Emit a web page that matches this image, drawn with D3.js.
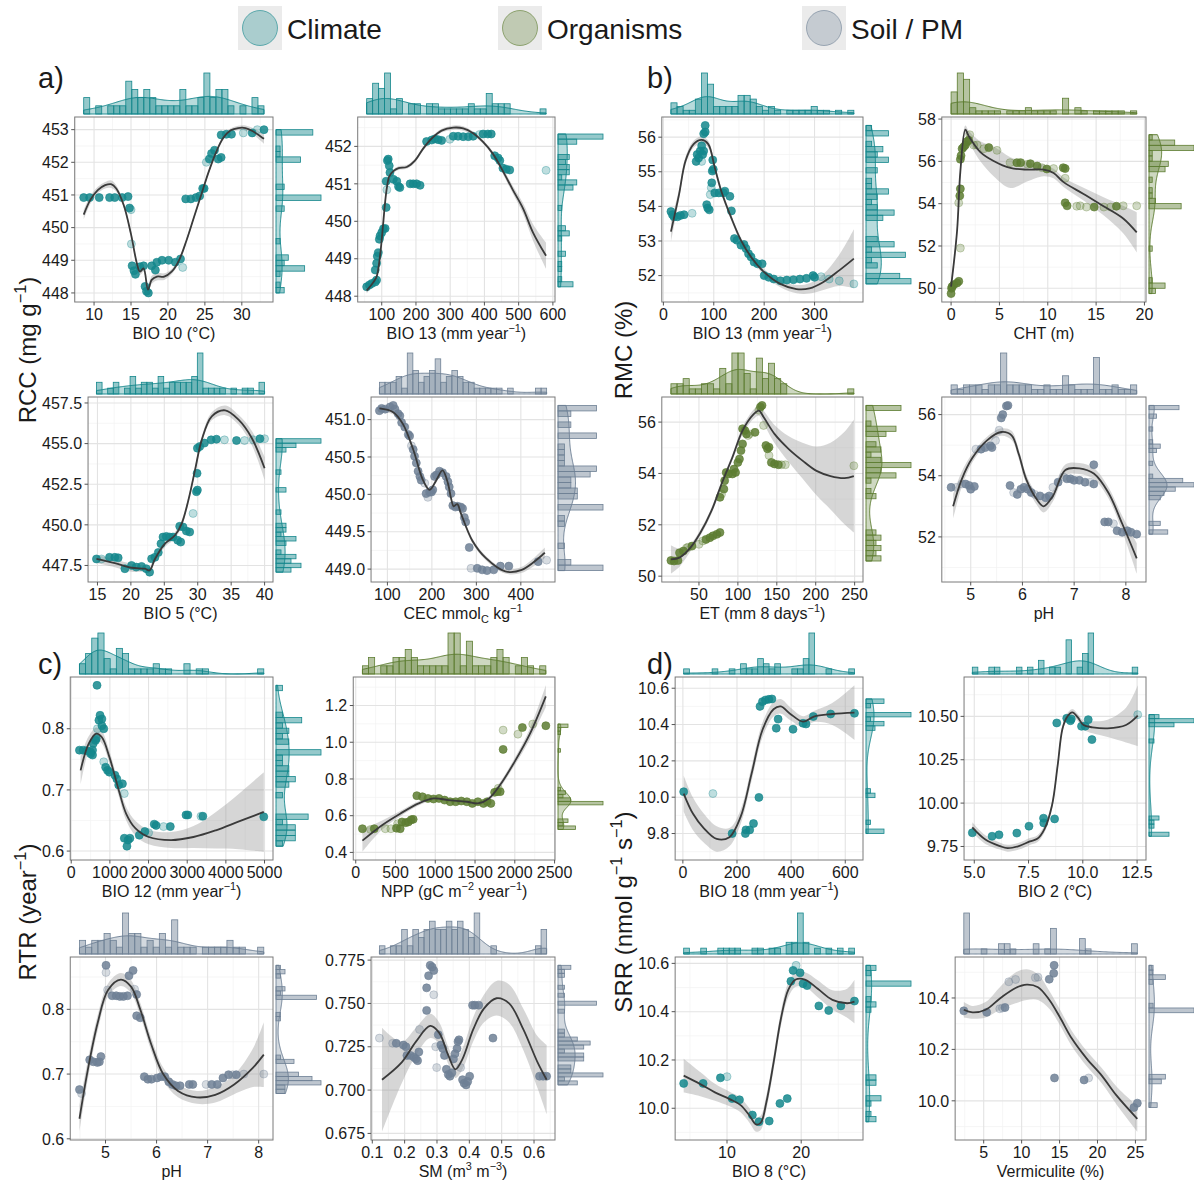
<!DOCTYPE html>
<html>
<head>
<meta charset="utf-8">
<script src="https://cdn.jsdelivr.net/npm/d3@7"></script>
<style>
body { margin: 0; background: #fff; }
svg { display: block; }
text { font-family: "Liberation Sans", Arial, sans-serif; fill: #1a1a1a; }
</style>
</head>
<body>
<svg id="chart" width="1194" height="1182"></svg>
<script>
var climate = '#14878c', organisms = '#5d7d31', soil = '#6e8095'

// points are [x, y, light, weight]; curves are [x, y, halfwidth] or [x, y, lo, hi]
var a1Points = [[8.6,450.92],[9.4,450.92],[10.7,450.92],[12.1,450.92],[12.8,450.92],[13.8,450.92],[14.6,450.95],[14.8,450.6],[15.0,450.55,1],[15.05,449.5,1],[15.15,448.83],[15.4,448.68],[15.6,448.57],[16.2,448.8],[16.7,448.83],[16.9,448.2],[17.1,448.05],[17.35,448.0],[17.8,448.83],[18.3,448.7],[18.5,448.94],[19.2,449.0],[20.1,449.0],[21.0,448.94],[21.7,449.04],[22.0,448.78,1],[22.4,450.88],[23.1,450.88],[23.8,450.92],[24.3,450.97],[24.7,451.2],[24.9,451.2],[25.2,452.0,1],[25.6,452.1,0,3],[25.9,452.27],[26.3,452.37],[26.8,452.1],[27.2,452.15],[27.2,452.84],[27.9,452.86,0,3],[28.6,452.86],[30.2,452.9,1],[31.4,452.9],[32.1,453.0,1],[33.0,453.0]]
var a1Curve = [[8.6,450.4,.15],[9.5,450.85,.12],[10.5,451.15,.1],[11.5,451.3,.1],[12.3,451.33,.12],[13,451.2,.1],[14,450.7,.08],[15,449.8,.08],[15.8,448.9,.08],[16.2,448.65,.1],[16.7,448.75,.1],[17.3,448.1,.12],[17.8,448.4,.12],[18.5,448.5,.12],[19.5,448.5,.1],[20.5,448.65,.08],[21.5,449.0,.07],[22.5,449.6,.06],[23.5,450.3,.06],[24.5,451.0,.06],[25.5,451.7,.06],[26.5,452.3,.06],[27.5,452.75,.06],[28.5,452.98,.06],[29.5,453.05,.07],[30.5,453.05,.08],[31.5,452.95,.1],[32.5,452.8,.13],[33,452.72,.15]]

var a2Points = [[56,448.25],[64,448.3],[71,448.34],[81,448.38],[85,448.43],[81,448.7],[85,448.88],[87,449.07],[90,449.16],[93,449.52],[95,449.61],[100,449.7,0,2],[105,449.8],[110,449.81],[113,450.37],[115,450.84,1],[113,451.07],[116.5,451.62],[119,451.66],[122,451.48],[124,451.3],[134,451.12],[144,451.07],[149,450.93],[153,450.9],[183,451.0],[192,451.0],[202,451.0],[212,450.96],[231,452.13],[246,452.17],[255,452.2],[265,452.18],[275,452.16],[299,452.19,1],[309,452.27],[323,452.27],[338,452.26],[353,452.26],[367,452.27],[386,452.32,1],[396,452.33],[410,452.33],[420,452.33,0,3],[430,451.75],[440,451.69],[445,451.62],[454,451.42],[464,451.39],[474,451.37],[580,451.36,1]]
var a2Curve = [[56,448.15,.08],[76,448.38,.06],[85,448.52,.06],[95,449.07,.06],[100,449.52,.06],[105,450.02,.06],[110,450.52,.06],[115,450.89,.06],[122,451.2,.06],[134,451.34,.05],[149,451.42,.05],[173,451.45,.05],[197,451.62,.05],[221,451.94,.05],[246,452.21,.05],[275,452.42,.05],[309,452.5,.06],[338,452.48,.06],[367,452.35,.05],[396,452.12,.05],[425,451.8,.06],[454,451.34,.08],[483,450.84,.1],[513,450.34,.14],[542,449.7,.22],[580,449.08,.35]]

var b1Points = [[15,53.85],[18,53.76],[21,53.7],[28,53.7],[34,53.74],[41,53.76],[57,53.8,1],[65,55.3],[67,55.5],[70,55.4],[73,55.6],[76,55.3,1],[80,55.6,0,2],[76,55.75],[78,55.5],[80,56.1],[83,56.15,0,3],[83,56.34],[86,54.05],[88,53.95],[91,53.9],[93,54.34,1],[95,54.54,1],[96,54.68],[97,55.02],[99,55.07],[98,55.34],[102,54.39],[110,54.39],[119,54.39],[122,54.44],[132,54.29],[135,53.87],[141,53.07],[146,53.02],[154,52.88,0,4],[160,52.9],[164,52.78],[169,52.63,0,4],[174,52.54,0,3],[180,52.39],[187,52.34],[196,52.34],[200,52.0],[209,51.95],[219,51.9],[232,51.85],[245,51.87],[258,51.88],[271,51.9],[284,51.92],[297,52.0],[300,51.95],[313,51.97,1],[329,51.9,1],[349,51.85,1],[378,51.76,1]]
var b1Curve = [[15,53.27,.3],[31,54.34,.15],[44,55.32,.12],[60,55.8,.1],[76,55.92,.1],[89,55.8,.1],[102,55.12,.1],[115,54.44,.1],[135,53.66,.08],[154,53.02,.08],[174,52.54,.08],[200,52.1,.08],[232,51.76,.1],[264,51.61,.12],[290,51.63,.15],[316,51.8,.22],[349,52.15,.45],[378,52.49,.85]]

var b2Points = [[0,49.75],[0.05,50.0],[0.1,50.08,0,3],[0.28,50.17],[0.62,50.25],[0.8,50.33],[0.79,54.04,1],[0.9,54.37],[0.96,54.7],[0.96,51.9,1],[0.96,56.1],[1.03,56.27],[1.14,56.6,0,6],[1.3,56.68,0,5],[1.48,56.77,0,4],[1.65,56.93],[1.82,57.0],[1.93,57.26,1],[2.34,56.77,1],[2.7,56.77,1],[3.4,56.6,1],[3.9,56.65],[4.75,56.52,1],[6.1,55.94,1],[6.8,55.94],[7.2,55.94],[7.9,55.86,1],[8.2,55.89],[8.9,55.78],[9.4,55.7,1],[9.9,55.64],[10.6,55.66,1],[11.6,55.7],[11.8,55.66],[11.8,55.2,1],[11.8,54.04],[12.0,53.9],[13.0,53.88,1],[13.35,53.9,1],[14.0,53.84,1],[14.8,53.84],[15.8,53.84,1],[16.5,53.84,1],[17.1,53.88],[17.8,53.9,1],[19.2,53.9,1]]
var b2Curve = [[0,50.08,49.9,50.3],[0.62,52.72,52.5,52.95],[0.96,55.53,55.35,55.7],[1.48,57.5,57.3,57.7],[1.82,57.2,56.95,57.45],[3.03,56.44,56.0,56.95],[4.4,56.02,55.3,56.7],[6.13,55.69,54.74,56.2],[7.85,55.61,55.05,55.95],[9.57,55.61,55.3,55.85],[10.6,55.45,55.2,55.65],[11.6,55.03,54.8,55.25],[13.7,54.46,54.15,54.75],[15.77,53.88,53.45,54.3],[17.8,53.3,52.6,53.9],[19.2,52.64,51.7,53.6]]

var a3Points = [[14.85,447.9],[15.6,447.9,1],[16.8,448.0],[17.6,448.0],[18.1,447.97],[19.1,447.3],[20.1,447.5,0,3],[20.8,447.4],[21.6,447.44],[22.3,447.3],[22.8,447.09],[23.1,447.91],[23.6,448.0],[24.1,448.3],[24.5,448.84],[24.8,449.25],[25.3,449.29],[25.8,449.25],[26.3,449.25],[27.0,449.05],[27.45,448.94],[27.3,449.91],[27.8,449.87],[28.3,449.62],[28.8,449.56],[29.3,450.7,1],[29.8,452.04],[29.9,453.17],[29.95,452.14],[29.95,454.72,0,2],[30.3,454.82,0,4],[31.0,455.03],[32.0,455.23],[32.8,455.27],[34.0,455.23,1],[35.8,455.19],[37.0,455.19,1],[38.3,455.23,1],[39.3,455.3],[40.0,455.3,1]]
var a3Curve = [[14.85,447.9,.25],[17.6,447.64,.25],[20.1,447.36,.25],[22.1,447.3,.2],[22.8,447.2,.2],[23.6,447.9,.2],[25.1,448.84,.2],[26.6,449.36,.2],[27.6,450.08,.2],[28.6,451.52,.2],[29.6,453.38,.2],[30.6,455.23,.2],[32.1,456.68,.25],[34.1,457.05,.3],[36.1,456.47,.3],[38.1,455.33,.45],[40.0,453.48,.7]]

var a4Points = [[82,451.12],[87,451.15],[95,451.14],[106,451.17],[113,451.19],[117,451.14],[124,451.08],[128,451.05],[132,450.96],[139,450.9],[147,450.8],[150,450.78,0,5],[154,450.65,1],[158,450.6],[161,450.51],[165,450.42],[169,450.31],[173,450.24],[176,450.19],[184,450.15,1],[187,450.01],[191,449.96,1],[195,450.03],[199,450.03],[202,450.06],[206,450.24],[210,450.26],[217,450.31,0,5],[224,450.29],[232,450.24],[236,450.17],[239,450.1],[243,450.01],[247,449.85],[253,449.83,0,3],[258,449.84],[265,449.83],[269,449.81],[273,449.69],[276,449.63],[284,449.29],[288,449.01,1],[302,449.01],[313,448.99],[324,448.98],[339,448.99],[354,449.04],[373,449.04],[439,449.1],[458,449.12,1]]
var a4Curve = [[82,451.15,.04],[113,451.1,.03],[135,450.94,.03],[158,450.6,.03],[180,450.19,.03],[195,450.06,.03],[210,450.19,.03],[224,450.32,.03],[236,450.15,.03],[243,449.95,.03],[249,449.84,.03],[257,449.87,.03],[265,449.75,.03],[291,449.38,.03],[321,449.15,.03],[365,448.97,.03],[402,448.99,.04],[454,449.22,.07]]

var b3Points = [[14,50.61],[18,50.59],[23,50.61],[25,50.91],[30,50.98],[34,51.1,1],[36,51.13,1],[41,51.17],[50,51.24,1],[55,51.37,1],[59,51.43],[64,51.5],[68,51.57],[73,51.63],[77,51.7],[77,53.07],[79,53.2,1],[82,53.39],[83,53.72],[85,54.04],[88,53.98],[93,53.98,0,5],[95,54.17],[97,54.04],[100,54.43],[102,54.56],[104,54.89],[106,55.15],[106,55.74,0,5],[109,55.67],[111,55.54],[113,55.48,1],[115,55.54,1],[122,55.6],[127,56.46,1],[129,56.59],[131,56.65,0,5],[133,55.87,1],[136,55.09],[138,54.96],[140,55.02],[140,54.7,1],[143,54.43],[147,54.37,0,3],[152,54.34,0,3],[156,54.34,1],[161,54.34,1],[249,54.3,1]]
var b3Curve = [[14,50.65,.55],[25,50.72,.35],[39,51.11,.15],[52,51.7,.12],[66,52.54,.12],[79,53.59,.12],[93,54.63,.12],[106,55.67,.15],[120,56.3,.18],[127,56.45,.2],[133,56.2,.25],[147,55.54,.35],[165,54.96,.5],[183,54.5,.7],[201,54.1,.95],[219,53.9,1.3],[237,53.82,1.8],[249,53.9,2.2]]

var b4Points = [[4.62,53.62],[4.72,53.62,1],[4.83,53.73,1],[4.9,53.73],[4.97,53.68],[5.0,53.56],[5.07,53.65],[5.1,54.87,1],[5.2,54.87],[5.28,54.92],[5.38,54.98],[5.41,54.92],[5.48,55.15,1],[5.55,55.49,1],[5.59,55.89],[5.62,56.0],[5.69,56.28,0,7],[5.72,56.3],[5.76,53.68],[5.83,53.45,1],[5.9,53.39],[5.97,53.56],[6.03,53.62],[6.1,53.56],[6.17,53.45],[6.24,53.39,1],[6.34,53.34],[6.45,53.28],[6.52,53.34],[6.59,53.62,1],[6.69,53.79],[6.79,53.96,1],[6.86,53.9,0,3],[6.93,53.9],[7.0,53.85],[7.1,53.85],[7.21,53.79],[7.31,53.79,1],[7.38,53.73,0,7],[7.38,54.36],[7.59,52.49],[7.66,52.49],[7.76,52.43,1],[7.83,52.2],[7.93,52.15],[8.03,52.2],[8.1,52.15],[8.21,52.09]]
var b4Curve = [[4.66,53.0,.4],[4.83,53.9,.25],[5.03,54.58,.15],[5.31,55.15,.12],[5.59,55.43,.12],[5.79,55.32,.15],[5.93,54.7,.15],[6.07,53.9,.15],[6.28,53.22,.18],[6.41,53.0,.2],[6.59,53.34,.18],[6.83,54.19,.18],[7.1,54.24,.18],[7.38,54.07,.18],[7.66,53.45,.18],[7.93,52.43,.25],[8.21,51.3,.5]]

var c1Points = [[213,0.765],[309,0.765],[406,0.764],[503,0.762,0,2],[551,0.765],[503,0.759],[551,0.757],[570,0.776],[629,0.781],[648,0.784],[667,0.871],[677,0.8,1],[716,0.814,0,3],[745,0.822],[793,0.816],[841,0.8],[793,0.805],[841,0.746,1],[890,0.737],[938,0.732],[986,0.729],[1131,0.724],[1180,0.718,0,3],[1228,0.708],[1325,0.71],[1373,0.694,1],[1373,0.621],[1470,0.618],[1518,0.621],[1441,0.608],[1760,0.626],[1905,0.632],[2002,0.63,1],[2147,0.644],[2195,0.642],[2389,0.64,1],[2563,0.64],[2969,0.659],[3017,0.659],[3356,0.657,1],[3404,0.657],[4981,0.656]]
var c1Curve = [[242,0.732,.023],[455,0.776,.012],[648,0.792,.01],[793,0.786,.01],[986,0.754,.01],[1228,0.7,.01],[1422,0.661,.011],[1663,0.637,.012],[2002,0.623,.012],[2582,0.618,.013],[3162,0.623,.018],[3743,0.634,.03],[4323,0.648,.045],[4981,0.664,.065]]

var c2Points = [[84,0.529],[186,0.525,1],[233,0.529],[372,0.529,1],[442,0.529,1],[512,0.532],[526,0.556,1],[559,0.529],[582,0.566],[628,0.562],[661,0.566],[698,0.578],[722,0.58],[768,0.709],[838,0.703],[908,0.694],[978,0.691],[1047,0.694],[1117,0.685],[1187,0.676,0,5],[1257,0.676,0,5],[1327,0.68],[1397,0.676,0,3],[1466,0.667],[1536,0.676],[1606,0.667],[1653,0.676],[1699,0.667],[1746,0.727],[1778,0.731],[1792,0.749,1],[1816,0.731],[1853,0.961],[1853,1.066,1],[2039,1.044,1],[2095,1.08,0,2],[2225,1.099,1],[2390,1.09]]
var c2Curve = [[84,0.464,.06],[326,0.547,.025],[559,0.611,.015],[791,0.667,.012],[978,0.694,.01],[1164,0.685,.01],[1397,0.676,.01],[1536,0.667,.01],[1676,0.694,.012],[1816,0.768,.015],[2002,0.897,.02],[2188,1.044,.03],[2390,1.25,.06]]

var c3Points = [[4.49,0.676],[4.53,0.67,1],[4.69,0.722],[4.76,0.719],[4.84,0.718],[4.88,0.719],[4.91,0.727],[5.01,0.868],[5.01,0.857,1],[5.04,0.83,1],[5.13,0.821],[5.21,0.821],[5.28,0.82],[5.35,0.82],[5.43,0.821,0,5],[5.46,0.852],[5.54,0.86],[5.57,0.831,1],[5.61,0.823],[5.61,0.79],[5.68,0.787],[5.76,0.696],[5.83,0.692],[5.9,0.692],[6.01,0.694],[6.09,0.696,0,2],[6.16,0.696],[6.24,0.688],[6.31,0.684,0,4],[6.38,0.682],[6.46,0.682],[6.64,0.684],[6.71,0.684],[6.97,0.684,1],[7.08,0.684],[7.19,0.684],[7.3,0.694],[7.41,0.699],[7.49,0.699,1],[7.56,0.699],[7.71,0.7,1],[8.1,0.7,1]]
var c3Curve = [[4.49,0.631,.02],[4.65,0.705,.015],[4.85,0.78,.012],[5.05,0.83,.01],[5.3,0.846,.01],[5.5,0.835,.01],[5.68,0.8,.01],[5.9,0.745,.01],[6.13,0.7,.01],[6.42,0.674,.01],[6.79,0.664,.01],[7.15,0.668,.012],[7.52,0.684,.015],[7.89,0.71,.03],[8.1,0.73,.05]]

var c4Points = [[0.122,0.73,1],[0.163,0.727,1],[0.174,0.727],[0.196,0.726],[0.204,0.725],[0.207,0.72],[0.218,0.72],[0.229,0.719],[0.235,0.718],[0.24,0.717],[0.244,0.722],[0.246,0.735,1],[0.268,0.746],[0.268,0.759],[0.274,0.766],[0.279,0.772],[0.285,0.771],[0.29,0.769],[0.29,0.755,1],[0.296,0.725,1],[0.299,0.713,1],[0.304,0.732],[0.312,0.726],[0.318,0.724],[0.323,0.72],[0.329,0.712],[0.335,0.709],[0.34,0.708],[0.346,0.71],[0.351,0.718],[0.356,0.721],[0.362,0.724],[0.365,0.728],[0.368,0.729],[0.373,0.713,1],[0.379,0.706],[0.384,0.704],[0.39,0.703],[0.395,0.705],[0.401,0.708],[0.41,0.749],[0.417,0.749,0,4],[0.429,0.749],[0.473,0.73],[0.617,0.708],[0.628,0.708],[0.639,0.708,0,2]]
var c4Curve = [[0.13,0.706,.03],[0.191,0.716,.012],[0.235,0.728,.008],[0.279,0.737,.007],[0.307,0.733,.006],[0.335,0.72,.005],[0.357,0.712,.005],[0.379,0.718,.006],[0.412,0.735,.007],[0.445,0.747,.008],[0.484,0.753,.01],[0.523,0.75,.011],[0.567,0.735,.012],[0.611,0.716,.015],[0.639,0.706,.02]]

var d1Points = [[3,10.03],[111,10.02,1],[182,9.8],[231,9.8],[233,9.82],[247,9.82],[261,9.855],[281,9.999],[285,10.5],[294,10.526],[305,10.535],[318,10.539],[329,10.541],[345,10.38],[352,10.43],[407,10.374],[444,10.407],[455,10.403,0,3],[482,10.444,0,8],[546,10.458],[634,10.462]]
var d1Curve = [[3,10.02,.1],[37,9.91,.09],[77,9.83,.08],[125,9.77,.07],[172,9.78,.05],[213,9.89,.04],[254,10.13,.04],[294,10.37,.04],[335,10.484,.04],[362,10.5,.04],[396,10.46,.035],[444,10.416,.03],[484,10.444,.03],[552,10.458,.06],[634,10.466,.15]]

var d2Points = [[4.91,9.829],[5.82,9.809],[6.14,9.817],[6.96,9.827],[7.52,9.867],[8.19,9.913],[8.2,9.886],[8.7,9.909],[8.8,10.462],[9.26,10.489],[9.43,10.475,0,3],[9.47,10.485],[9.94,10.443],[10.11,10.443,0,3],[10.25,10.481,0,5],[10.42,10.366],[12.53,10.51,1]]
var d2Curve = [[4.91,9.86,.03],[5.51,9.79,.025],[6.19,9.752,.02],[6.53,9.74,.02],[7.05,9.752,.02],[7.56,9.779,.02],[7.9,9.794,.02],[8.24,9.852,.02],[8.58,9.986,.02],[8.84,10.216,.02],[9.06,10.427,.02],[9.26,10.494,.02],[9.52,10.523,.02],[9.77,10.494,.02],[10.03,10.45,.025],[10.45,10.437,.035],[11.14,10.431,.05],[11.99,10.45,.1],[12.53,10.504,.175]]

var d3Points = [[4.16,10.103],[6.78,10.103],[9.11,10.126],[10.0,10.131,1],[10.69,10.04],[11.68,10.035],[13.42,9.972],[14.31,9.944],[15.69,9.947],[17.13,10.02],[18.12,10.04],[18.61,10.526],[18.91,10.571],[19.31,10.592,1],[19.85,10.561],[20.25,10.516,0,6],[20.79,10.508,0,2],[22.38,10.424],[23.71,10.405],[25.35,10.424],[27.18,10.444]]
var d3Curve = [[4.16,10.135,.07],[6.39,10.1,.05],[8.37,10.066,.035],[10.35,10.038,.03],[11.83,10.013,.03],[13.07,9.968,.03],[13.91,9.933,.03],[14.55,9.94,.03],[15.3,10.024,.03],[16.29,10.191,.03],[17.28,10.373,.03],[18.27,10.491,.03],[19.26,10.533,.03],[20.5,10.533,.03],[22.23,10.495,.035],[24.21,10.449,.04],[26.19,10.435,.06],[27.18,10.442,.09]]

var d4Points = [[2.38,10.35,0,8],[5.4,10.344],[7.12,10.358,1],[7.47,10.361,1],[7.81,10.363],[8.31,10.463,1],[9.2,10.472,1],[11.81,10.479,1],[12.16,10.481,1],[13.64,10.473],[14.23,10.496],[14.28,10.527],[14.33,10.089,0,3],[18.23,10.081,0,3],[18.83,10.089,1],[24.8,9.974],[25.25,9.991]]
var d4Curve = [[2.38,10.354,.03],[3.52,10.344,.025],[5.25,10.354,.03],[7.22,10.4,.045],[9.2,10.439,.06],[10.68,10.452,.06],[12.16,10.442,.05],[13.64,10.393,.035],[15.12,10.321,.03],[16.6,10.243,.03],[18.58,10.164,.03],[20.56,10.098,.03],[22.53,10.02,.035],[25.25,9.93,.05]]

// axis titles
var supM1 = ['\u22121', 'sup']
var titleA1 = [['BIO 10 (\u00b0C)']]
var titleA2 = [['BIO 13 (mm year'], supM1, [')']]
var titleB2 = [['CHT (m)']]
var titleA3 = [['BIO 5 (\u00b0C)']]
var titleA4 = [['CEC mmol'], ['C', 'sub'], [' kg'], supM1]
var titleB3 = [['ET (mm 8 days'], supM1, [')']]
var titlePH = [['pH']]
var titleC1 = [['BIO 12 (mm year'], supM1, [')']]
var titleC2 = [['NPP (gC m'], ['\u22122', 'sup'], [' year'], supM1, [')']]
var titleC4 = [['SM (m'], ['3', 'sup'], [' m'], ['\u22123', 'sup'], [')']]
var titleD1 = [['BIO 18 (mm year'], supM1, [')']]
var titleD2 = [['BIO 2 (\u00b0C)']]
var titleD3 = [['BIO 8 (\u00b0C)']]
var titleD4 = [['Vermiculite (%)']]

var yTitles = [[['RCC (mg g'], supM1, [')']], [['RMC (%)']], [['RTR (year'], supM1, [')']], [['SRR (nmol g'], supM1, [' s'], supM1, [')']]]
var yTitlePos = [[36, 350], [632, 350], [36, 912], [632, 912]]
var panelLabels = ['a)', 'b)', 'c)', 'd)']
var panelLabelPos = [[38, 88], [647, 88], [38, 674], [647, 674]]

var legendLabels = ['Climate', 'Organisms', 'Soil / PM']
var legendColors = [climate, organisms, soil]
var legendX = [238, 498, 802]

var colLeft = [42, 325, 638, 918]
var colRight = [273, 555, 863, 1146]
var rowTop = [117, 397, 677, 957]
var rowBottom = [302, 582, 860, 1140]

var panels = [
    {pts: a1Points, curve: a1Curve, color: climate, col: 0, row: 0, xTicks: [10,15,20,25,30], yTicks: [448,449,450,451,452,453], xFmt: 'd', yFmt: 'd', title: titleA1},
    {pts: a2Points, curve: a2Curve, color: climate, col: 1, row: 0, xTicks: [100,200,300,400,500,600], yTicks: [448,449,450,451,452], xFmt: 'd', yFmt: 'd', title: titleA2},
    {pts: b1Points, curve: b1Curve, color: climate, col: 2, row: 0, xTicks: [0,100,200,300], yTicks: [52,53,54,55,56], xFmt: 'd', yFmt: 'd', title: titleA2},
    {pts: b2Points, curve: b2Curve, color: organisms, col: 3, row: 0, xTicks: [0,5,10,15,20], yTicks: [50,52,54,56,58], xFmt: 'd', yFmt: 'd', title: titleB2},
    {pts: a3Points, curve: a3Curve, color: climate, col: 0, row: 1, xTicks: [15,20,25,30,35,40], yTicks: [447.5,450,452.5,455,457.5], xFmt: 'd', yFmt: '.1f', title: titleA3},
    {pts: a4Points, curve: a4Curve, color: soil, col: 1, row: 1, xTicks: [100,200,300,400], yTicks: [449,449.5,450,450.5,451], xFmt: 'd', yFmt: '.1f', title: titleA4},
    {pts: b3Points, curve: b3Curve, color: organisms, col: 2, row: 1, xTicks: [50,100,150,200,250], yTicks: [50,52,54,56], xFmt: 'd', yFmt: 'd', title: titleB3},
    {pts: b4Points, curve: b4Curve, color: soil, col: 3, row: 1, xTicks: [5,6,7,8], yTicks: [52,54,56], xFmt: 'd', yFmt: 'd', title: titlePH},
    {pts: c1Points, curve: c1Curve, color: climate, col: 0, row: 2, xTicks: [0,1000,2000,3000,4000,5000], yTicks: [0.6,0.7,0.8], xFmt: 'd', yFmt: '.1f', title: titleC1},
    {pts: c2Points, curve: c2Curve, color: organisms, col: 1, row: 2, xTicks: [0,500,1000,1500,2000,2500], yTicks: [0.4,0.6,0.8,1.0,1.2], xFmt: 'd', yFmt: '.1f', title: titleC2},
    {pts: d1Points, curve: d1Curve, color: climate, col: 2, row: 2, xTicks: [0,200,400,600], yTicks: [9.8,10.0,10.2,10.4,10.6], xFmt: 'd', yFmt: '.1f', title: titleD1},
    {pts: d2Points, curve: d2Curve, color: climate, col: 3, row: 2, xTicks: [5,7.5,10,12.5], yTicks: [9.75,10,10.25,10.5], xFmt: '.1f', yFmt: '.2f', title: titleD2},
    {pts: c3Points, curve: c3Curve, color: soil, col: 0, row: 3, xTicks: [5,6,7,8], yTicks: [0.6,0.7,0.8], xFmt: 'd', yFmt: '.1f', title: titlePH},
    {pts: c4Points, curve: c4Curve, color: soil, col: 1, row: 3, xTicks: [0.1,0.2,0.3,0.4,0.5,0.6], yTicks: [0.675,0.7,0.725,0.75,0.775], xFmt: '.1f', yFmt: '.3f', title: titleC4},
    {pts: d3Points, curve: d3Curve, color: climate, col: 2, row: 3, xTicks: [10,20], yTicks: [10,10.2,10.4,10.6], xFmt: 'd', yFmt: '.1f', title: titleD3},
    {pts: d4Points, curve: d4Curve, color: soil, col: 3, row: 3, xTicks: [5,10,15,20,25], yTicks: [10,10.2,10.4], xFmt: 'd', yFmt: '.1f', title: titleD4}
]

var svg = d3.select('#chart')
var measurer = svg.append('text').attr('font-size', 16).attr('visibility', 'hidden')
function measure(s) { measurer.text(s); return measurer.node().getComputedTextLength() }

function addRich(sel, segs, size) {
    var shift = 0
    segs.forEach(function (s) {
        var target = s[1] === 'sup' ? -size * 0.42 : s[1] === 'sub' ? size * 0.25 : 0
        sel.append('tspan')
            .attr('dy', target - shift)
            .attr('font-size', s[1] ? size * 0.68 : size)
            .text(s[0])
        shift = target
    })
}

function expand(pts, k) {
    var out = []
    pts.forEach(function (d) { for (var i = 0; i < (d[3] || 1); i++) out.push(d[k]) })
    return out
}

function bwNrd0(v) {
    var s = v.slice().sort(d3.ascending)
    var sd = d3.deviation(s) || 1
    var iqr = d3.quantile(s, 0.75) - d3.quantile(s, 0.25)
    var lo = Math.min(sd, iqr / 1.34)
    if (!(lo > 0)) lo = sd
    return 0.9 * lo * Math.pow(s.length, -0.2)
}

function marginal(vals) {
    var ext = d3.extent(vals), n = vals.length
    var w = (ext[1] - ext[0]) / 30
    var bins = d3.bin().domain(ext).thresholds(d3.range(1, 30).map(i => ext[0] + i * w))(vals)
    bins.forEach(b => b.d = b.length / (n * w))
    var bw = bwNrd0(vals)
    var dens = d3.range(0, 201).map(function (i) {
        var t = ext[0] + i * (ext[1] - ext[0]) / 200
        return [t, d3.mean(vals, v => Math.exp(-0.5 * Math.pow((t - v) / bw, 2))) / (bw * Math.sqrt(2 * Math.PI))]
    })
    return {bins: bins.filter(b => b.length > 0), dens: dens, max: Math.max(d3.max(bins, b => b.d), d3.max(dens, d => d[1]))}
}

function lo(d) { return d.length > 3 ? d[2] : d[1] - d[2] }
function hi(d) { return d.length > 3 ? d[3] : d[1] + d[2] }

function gridValues(ticks, dom) {
    var step = ticks[1] - ticks[0]
    var minor = [ticks[0] - step / 2].concat(ticks.map(t => t + step / 2))
    return minor.filter(v => v >= dom[0] && v <= dom[1])
}

function drawPanel(p) {
    var top = rowTop[p.row], bottom = rowBottom[p.row], right = colRight[p.col]
    var xf = d3.format(p.xFmt), yf = d3.format(p.yFmt)
    var left = colLeft[p.col] + d3.max(p.yTicks, t => measure(yf(t))) + 6

    var xExt = d3.extent(p.pts.map(d => d[0]).concat(p.curve.map(d => d[0])))
    var yExt = d3.extent(p.pts.map(d => d[1]).concat(p.curve.map(lo), p.curve.map(hi)))
    var xPad = (xExt[1] - xExt[0]) * 0.05, yPad = (yExt[1] - yExt[0]) * 0.05
    var x = d3.scaleLinear().domain([xExt[0] - xPad, xExt[1] + xPad]).range([left, right])
    var y = d3.scaleLinear().domain([yExt[0] - yPad, yExt[1] + yPad]).range([bottom, top])

    var g = svg.append('g')

    // grid
    g.selectAll(null).data(gridValues(p.xTicks, x.domain())).join('line')
        .attr('x1', d => x(d)).attr('x2', d => x(d)).attr('y1', top).attr('y2', bottom)
        .attr('stroke', '#f2f2f2').attr('stroke-width', 0.7)
    g.selectAll(null).data(gridValues(p.yTicks, y.domain())).join('line')
        .attr('y1', d => y(d)).attr('y2', d => y(d)).attr('x1', left).attr('x2', right)
        .attr('stroke', '#f2f2f2').attr('stroke-width', 0.7)
    g.selectAll(null).data(p.xTicks).join('line')
        .attr('x1', d => x(d)).attr('x2', d => x(d)).attr('y1', top).attr('y2', bottom)
        .attr('stroke', '#e3e3e3').attr('stroke-width', 1.1)
    g.selectAll(null).data(p.yTicks).join('line')
        .attr('y1', d => y(d)).attr('y2', d => y(d)).attr('x1', left).attr('x2', right)
        .attr('stroke', '#e3e3e3').attr('stroke-width', 1.1)

    // confidence band
    g.append('path').datum(p.curve)
        .attr('d', d3.area().curve(d3.curveCatmullRom).x(d => x(d[0])).y0(d => y(lo(d))).y1(d => y(hi(d))))
        .attr('fill', '#999').attr('fill-opacity', 0.4)

    // points
    g.selectAll(null).data(p.pts).join('circle')
        .attr('cx', d => x(d[0])).attr('cy', d => y(d[1])).attr('r', 4)
        .attr('fill', p.color).attr('fill-opacity', d => d[2] ? 0.28 : 0.85)
        .attr('stroke', p.color).attr('stroke-opacity', d => d[2] ? 0.45 : 0.9).attr('stroke-width', 0.7)

    // smooth line
    g.append('path').datum(p.curve)
        .attr('d', d3.line().curve(d3.curveCatmullRom).x(d => x(d[0])).y(d => y(d[1])))
        .attr('fill', 'none').attr('stroke', '#3a3a3a').attr('stroke-width', 1.8)

    g.append('rect').attr('x', left).attr('y', top).attr('width', right - left).attr('height', bottom - top)
        .attr('fill', 'none').attr('stroke', '#7a7a7a').attr('stroke-width', 1)

    // axes
    g.selectAll(null).data(p.xTicks).join('line')
        .attr('x1', d => x(d)).attr('x2', d => x(d)).attr('y1', bottom).attr('y2', bottom + 3.5)
        .attr('stroke', '#555')
    g.selectAll(null).data(p.xTicks).join('text')
        .attr('x', d => x(d)).attr('y', bottom + 18).attr('text-anchor', 'middle').attr('font-size', 16)
        .text(d => xf(d))
    g.selectAll(null).data(p.yTicks).join('line')
        .attr('y1', d => y(d)).attr('y2', d => y(d)).attr('x1', left - 3.5).attr('x2', left)
        .attr('stroke', '#555')
    g.selectAll(null).data(p.yTicks).join('text')
        .attr('x', left - 6).attr('y', d => y(d) + 5.7).attr('text-anchor', 'end').attr('font-size', 16)
        .text(d => yf(d))
    var t = g.append('text').attr('x', (left + right) / 2).attr('y', bottom + 37)
        .attr('text-anchor', 'middle').attr('font-size', 16)
    addRich(t, p.title, 16)

    // top marginal
    var mt = marginal(expand(p.pts, 0))
    var hs = d3.scaleLinear().domain([0, mt.max]).range([top - 3, top - 44])
    g.selectAll(null).data(mt.bins).join('rect')
        .attr('x', b => x(b.x0)).attr('width', b => x(b.x1) - x(b.x0))
        .attr('y', b => hs(b.d)).attr('height', b => hs(0) - hs(b.d))
        .attr('fill', p.color).attr('fill-opacity', 0.45)
        .attr('stroke', p.color).attr('stroke-width', 0.8)
    g.append('path').datum(mt.dens)
        .attr('d', d3.area().x(d => x(d[0])).y0(hs(0)).y1(d => hs(d[1])))
        .attr('fill', p.color).attr('fill-opacity', 0.3)
        .attr('stroke', p.color).attr('stroke-width', 1)

    // right marginal
    var mr = marginal(expand(p.pts, 1))
    var ws = d3.scaleLinear().domain([0, mr.max]).range([right + 3, right + 48])
    g.selectAll(null).data(mr.bins).join('rect')
        .attr('y', b => y(b.x1)).attr('height', b => y(b.x0) - y(b.x1))
        .attr('x', ws(0)).attr('width', b => ws(b.d) - ws(0))
        .attr('fill', p.color).attr('fill-opacity', 0.45)
        .attr('stroke', p.color).attr('stroke-width', 0.8)
    g.append('path').datum(mr.dens)
        .attr('d', d3.area().y(d => y(d[0])).x0(ws(0)).x1(d => ws(d[1])))
        .attr('fill', p.color).attr('fill-opacity', 0.3)
        .attr('stroke', p.color).attr('stroke-width', 1)
}

panels.forEach(drawPanel)

// y titles and panel letters
yTitles.forEach(function (segs, i) {
    var t = svg.append('text')
        .attr('transform', 'translate(' + yTitlePos[i][0] + ',' + yTitlePos[i][1] + ') rotate(-90)')
        .attr('text-anchor', 'middle').attr('font-size', 24)
    addRich(t, segs, 24)
})
panelLabels.forEach(function (s, i) {
    svg.append('text').attr('x', panelLabelPos[i][0]).attr('y', panelLabelPos[i][1])
        .attr('font-size', 29).text(s)
})

// legend
legendLabels.forEach(function (s, i) {
    var x0 = legendX[i]
    svg.append('rect').attr('x', x0).attr('y', 6).attr('width', 44).attr('height', 44).attr('fill', '#ebebeb')
    svg.append('circle').attr('cx', x0 + 22).attr('cy', 28).attr('r', 17.5)
        .attr('fill', legendColors[i]).attr('fill-opacity', 0.3)
        .attr('stroke', legendColors[i]).attr('stroke-opacity', 0.6).attr('stroke-width', 1)
    svg.append('text').attr('x', x0 + 49).attr('y', 39).attr('font-size', 28).text(s)
})
</script>
</body>
</html>
